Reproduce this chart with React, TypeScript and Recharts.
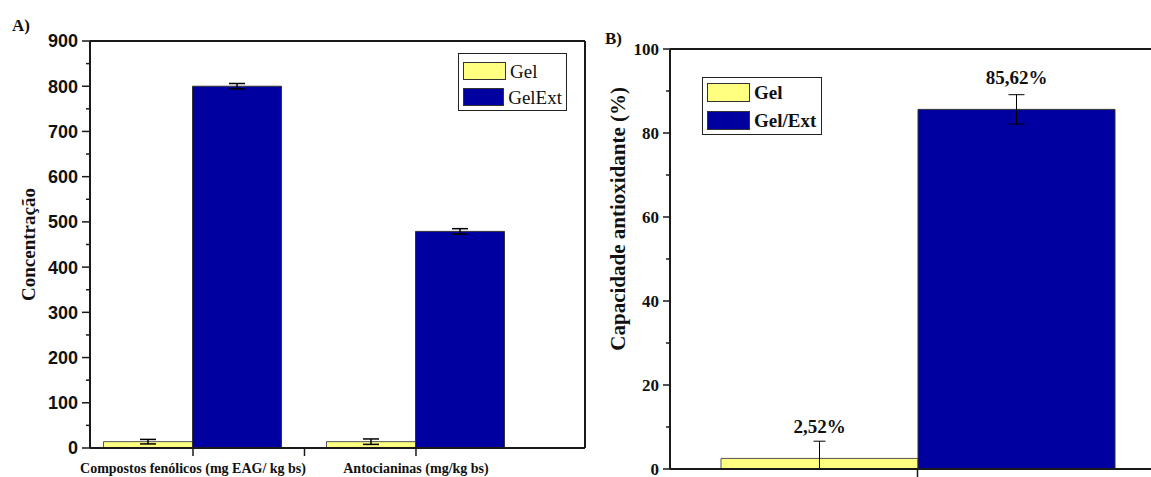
import React from "react";
import {
  BarChart,
  Bar,
  XAxis,
  YAxis,
  ErrorBar,
  LabelList,
  Legend,
  ReferenceLine,
} from "recharts";

// Panel A: concentrations
const analysisCategories = ["Compostos fenólicos (mg EAG/ kg bs)", "Antocianinas (mg/kg bs)"];
const analysisPositions = [1, 2];
const gelConcentration = [14, 14];
const gelConcentrationErr = [5, 6];
const gelExtConcentration = [800, 479];
const gelExtConcentrationErr = [6, 6];
const concentrationTicks = [0, 50, 100, 150, 200, 250, 300, 350, 400, 450, 500, 550, 600, 650, 700, 750, 800, 850, 900];
const positionTicks = [1, 1.5, 2];

// Panel B: antioxidant capacity
const antioxCategories = [""];
const gelAntiox = [2.52];
const gelAntioxErr = [[2.52, 4.1]];
const gelExtAntiox = [85.62];
const gelExtAntioxErr = [3.5];
const antioxTicks = [0, 10, 20, 30, 40, 50, 60, 70, 80, 90, 100];

const SERIF = '"Liberation Serif", "Times New Roman", serif';
const SANS = '"Liberation Sans", Arial, sans-serif';
const AXIS = "#1a1a1a";
const YELLOW = "#FFFF80";
const BLUE = "#0000A0";
const seriesColors: Record<string, string> = { gel: YELLOW, gelExt: BLUE };

const X_DOMAIN_A: [number, number] = [0.538, 2.758];

const concData = analysisPositions.map((pos, i) => ({
  pos,
  gel: gelConcentration[i],
  gelErr: gelConcentrationErr[i],
  gelExt: gelExtConcentration[i],
  gelExtErr: gelExtConcentrationErr[i],
}));

const antioxData = antioxCategories.map((name, i) => ({
  name,
  gel: gelAntiox[i],
  gelErr: gelAntioxErr[i],
  gelExt: gelExtAntiox[i],
  gelExtErr: gelExtAntioxErr[i],
}));

const fmtPct = (v: number) => v.toFixed(2).replace(".", ",") + "%";

function ConcYTick(props: any) {
  const { x, y, payload } = props;
  const major = payload.value % 100 === 0;
  return (
    <g>
      <line x1={x - (major ? 8 : 4)} x2={x} y1={y} y2={y} stroke={AXIS} strokeWidth={1.5} />
      {major && (
        <text x={x - 12} y={y} dy="0.36em" textAnchor="end" fontFamily={SANS} fontWeight="bold" fontSize={18} fill="#111">
          {payload.value}
        </text>
      )}
    </g>
  );
}

function ConcXTick(props: any) {
  const { x, y, payload } = props;
  const idx = analysisPositions.indexOf(payload.value);
  return (
    <g>
      <line x1={x} x2={x} y1={y} y2={y + 8} stroke={AXIS} strokeWidth={1.5} />
      {idx >= 0 && (
        <text x={x} y={y + 25} textAnchor="middle" fontFamily={SERIF} fontWeight="bold" fontSize={14} fill="#111">
          {analysisCategories[idx]}
        </text>
      )}
    </g>
  );
}

function AntioxYTick(props: any) {
  const { x, y, payload } = props;
  const major = payload.value % 20 === 0;
  return (
    <g>
      <line x1={x - (major ? 7 : 4)} x2={x} y1={y} y2={y} stroke={AXIS} strokeWidth={1.5} />
      {major && (
        <text x={x - 11} y={y} dy="0.33em" textAnchor="end" fontFamily={SERIF} fontWeight="bold" fontSize={17} fill="#111">
          {payload.value}
        </text>
      )}
    </g>
  );
}

function PctLabel(props: any) {
  const { x, y, width, value } = props;
  return (
    <text x={x + width / 2} y={y - 25} textAnchor="middle" fontFamily={SERIF} fontWeight="bold" fontSize={19} fill="#111">
      {fmtPct(value)}
    </text>
  );
}

function BoxLegend({ payload, bold, rowHeight, swatchHeight, padTop }: any) {
  return (
    <div style={{ border: "1px solid #222", background: "#fff", padding: `${padTop}px 4px 0 4px`, boxSizing: "border-box" }}>
      {(payload || []).map((entry: any) => (
        <div key={entry.value} style={{ display: "flex", alignItems: "center", height: rowHeight }}>
          <span
            style={{
              display: "inline-block",
              width: 41,
              height: swatchHeight,
              background: seriesColors[entry.dataKey],
              border: "1px solid #333",
              marginRight: 4,
            }}
          />
          <span style={{ fontFamily: SERIF, fontSize: 19, fontWeight: bold ? "bold" : "normal", color: "#111", lineHeight: 1 }}>
            {entry.value}
          </span>
        </div>
      ))}
    </div>
  );
}

function ConcentrationChart() {
  return (
    <BarChart width={600} height={477} data={concData} margin={{ top: 41, right: 15, bottom: 0, left: 0 }} barGap={0}>
      <XAxis
        type="number"
        dataKey="pos"
        domain={X_DOMAIN_A}
        allowDataOverflow
        ticks={positionTicks}
        interval={0}
        tickLine={false}
        tickSize={0}
        tickMargin={0}
        tick={<ConcXTick />}
        axisLine={{ stroke: AXIS, strokeWidth: 2 }}
        height={29}
      />
      <YAxis
        domain={[0, 900]}
        ticks={concentrationTicks}
        interval={0}
        width={90}
        tickLine={false}
        tickSize={0}
        tickMargin={0}
        tick={<ConcYTick />}
        axisLine={{ stroke: AXIS, strokeWidth: 2 }}
        label={{
          content: ({ viewBox }: any) => {
            const cx = viewBox.x + 28;
            const cy = viewBox.y + viewBox.height / 2;
            return (
              <text x={cx} y={cy} transform={`rotate(-90 ${cx} ${cy})`} textAnchor="middle" dominantBaseline="central" fontFamily={SERIF} fontWeight="bold" fontSize={19} fill="#111">
                Concentração
              </text>
            );
          },
        }}
      />
      <ReferenceLine y={900} stroke={AXIS} strokeWidth={2} />
      <ReferenceLine x={X_DOMAIN_A[1]} stroke={AXIS} strokeWidth={2} />
      <Legend
        layout="vertical"
        align="center"
        verticalAlign="middle"
        wrapperStyle={{ left: 458, top: 53, width: 109 }}
        content={(p: any) => <BoxLegend payload={p.payload} bold={false} rowHeight={26} swatchHeight={16} padTop={4} />}
      />
      <Bar dataKey="gel" name="Gel" fill={YELLOW} stroke="#555" strokeWidth={1} barSize={89} isAnimationActive={false}>
        <ErrorBar dataKey="gelErr" width={8} stroke="#000" strokeWidth={1.5} direction="y" />
      </Bar>
      <Bar dataKey="gelExt" name="GelExt" fill={BLUE} stroke="#333" strokeWidth={1} barSize={89} isAnimationActive={false}>
        <ErrorBar dataKey="gelExtErr" width={8} stroke="#000" strokeWidth={1.5} direction="y" />
      </Bar>
    </BarChart>
  );
}

function AntioxidantChart() {
  return (
    <BarChart width={620} height={477} data={antioxData} margin={{ top: 49, right: 15, bottom: 0, left: 0 }} barGap={0}>
      <XAxis
        dataKey="name"
        tickLine={{ stroke: AXIS, strokeWidth: 1.5 }}
        tickSize={8}
        tickFormatter={() => ""}
        axisLine={{ stroke: AXIS, strokeWidth: 2 }}
        height={8}
      />
      <YAxis
        domain={[0, 100]}
        ticks={antioxTicks}
        interval={0}
        width={110}
        tickLine={false}
        tickSize={0}
        tickMargin={0}
        tick={<AntioxYTick />}
        axisLine={{ stroke: AXIS, strokeWidth: 2 }}
        label={{
          content: ({ viewBox }: any) => {
            const cx = viewBox.x + 58;
            const top = viewBox.y + 38;
            return (
              <text x={cx} y={top} transform={`rotate(-90 ${cx} ${top})`} textAnchor="end" dominantBaseline="central" fontFamily={SERIF} fontWeight="bold" fontSize={21} fill="#111">
                Capacidade antioxidante (%)
              </text>
            );
          },
        }}
      />
      <ReferenceLine y={100} stroke={AXIS} strokeWidth={2} />
      <Legend
        layout="vertical"
        align="center"
        verticalAlign="middle"
        wrapperStyle={{ left: 142, top: 77, width: 120 }}
        content={(p: any) => <BoxLegend payload={p.payload} bold rowHeight={28} swatchHeight={17} padTop={0} />}
      />
      <Bar dataKey="gel" name="Gel" fill={YELLOW} stroke="#555" strokeWidth={1} barSize={197} isAnimationActive={false}>
        <ErrorBar dataKey="gelErr" width={6} stroke="#000" strokeWidth={1} direction="y" />
        <LabelList dataKey="gel" content={<PctLabel />} />
      </Bar>
      <Bar dataKey="gelExt" name="Gel/Ext" fill={BLUE} stroke="#333" strokeWidth={1} barSize={197} isAnimationActive={false}>
        <ErrorBar dataKey="gelExtErr" width={8} stroke="#000" strokeWidth={1} direction="y" />
        <LabelList dataKey="gelExt" content={<PctLabel />} />
      </Bar>
    </BarChart>
  );
}

export default function App() {
  return (
    <div style={{ position: "fixed", left: 0, top: 0, width: 1151, height: 477, overflow: "hidden", background: "#fff" }}>
      <div style={{ position: "absolute", left: 0, top: 0 }}>
        <ConcentrationChart />
      </div>
      <div style={{ position: "absolute", left: 560, top: 0 }}>
        <AntioxidantChart />
      </div>
      <div style={{ position: "absolute", left: 12, top: 16, fontFamily: SERIF, fontWeight: "bold", fontSize: 17, color: "#111" }}>A)</div>
      <div style={{ position: "absolute", left: 605, top: 29, fontFamily: SERIF, fontWeight: "bold", fontSize: 17, color: "#111" }}>B)</div>
    </div>
  );
}
